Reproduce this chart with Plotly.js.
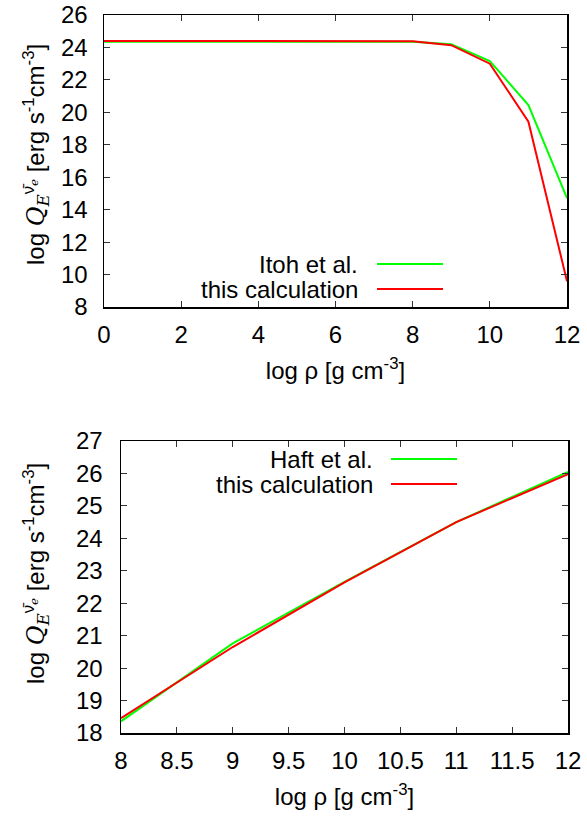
<!DOCTYPE html>
<html>
<head>
<meta charset="utf-8">
<script src="https://cdn.plot.ly/plotly-3.0.1.min.js"></script>
<style>html,body{margin:0;padding:0;background:#fff;}#chart{width:587px;height:821px;}</style>
</head>
<body>
<div id="chart"></div>
<script>
// Top panel data
const rhoTop = [0, 1, 2, 3, 4, 5, 6, 7, 8, 9, 10, 11, 12];
const itoh = [24.35, 24.35, 24.35, 24.35, 24.35, 24.35, 24.35, 24.35, 24.35, 24.2, 23.16, 20.45, 14.71];
const calcTop = [24.4, 24.4, 24.4, 24.4, 24.4, 24.4, 24.4, 24.4, 24.38, 24.14, 23.0, 19.42, 9.58];
// Bottom panel data
const rhoBot = [8, 9, 10, 11, 12];
const haft = [18.36, 20.76, 22.66, 24.5, 26.05];
const calcBot = [18.46, 20.65, 22.64, 24.5, 25.98];

const GREEN = '#00ff00', RED = '#ff0000';
const FONT = 'Liberation Sans';
const FS = 24;

const W = 587, H = 821;
const px = x => x / W;
const py = y => 1 - y / H;

const traces = [
  {x: rhoTop, y: itoh, xaxis: 'x', yaxis: 'y', mode: 'lines', line: {color: GREEN, width: 2}, showlegend: false},
  {x: rhoTop, y: calcTop, xaxis: 'x', yaxis: 'y', mode: 'lines', line: {color: RED, width: 2}, showlegend: false},
  {x: rhoBot, y: haft, xaxis: 'x2', yaxis: 'y2', mode: 'lines', line: {color: GREEN, width: 2}, showlegend: false},
  {x: rhoBot, y: calcBot, xaxis: 'x2', yaxis: 'y2', mode: 'lines', line: {color: RED, width: 2}, showlegend: false}
];

const SERIF = 'font-family:DejaVu Serif';
const yTitle = 'log <span style="' + SERIF + '"><i>Q</i></span><sub><span style="' + SERIF + '"><i>E</i></span></sub><sup>ν̄<sub><span style="' + SERIF + '"><i>e</i></span></sub></sup> [erg s<sup>-1</sup>cm<sup>-3</sup>]';
const xTitle = 'log ρ [g cm<sup>-3</sup>]';

const axBase = {
  showgrid: false, zeroline: false, showline: true, linecolor: '#000', linewidth: 1.5,
  mirror: 'ticks', ticks: 'inside', ticklen: 6, tickwidth: 1, tickcolor: '#333',
  tickfont: {family: FONT, size: FS, color: '#000'}
};

const layout = {
  width: W, height: H,
  margin: {l: 0, r: 0, t: 0, b: 0},
  paper_bgcolor: '#fff', plot_bgcolor: '#fff',
  font: {family: FONT, size: FS, color: '#000'},
  showlegend: false,
  xaxis: Object.assign({}, axBase, {domain: [px(104), px(567)], range: [0, 12], dtick: 2, tick0: 0, anchor: 'y', ticklabelstandoff: 6,
    title: {text: xTitle, font: {family: FONT, size: FS}, standoff: 15}}),
  yaxis: Object.assign({}, axBase, {domain: [py(307), py(15)], range: [8, 26], dtick: 2, tick0: 8, anchor: 'x', ticklabelstandoff: 10}),
  xaxis2: Object.assign({}, axBase, {domain: [px(121), px(568)], range: [8, 12], dtick: 0.5, tick0: 8, anchor: 'y2', ticklabelstandoff: 6,
    title: {text: xTitle, font: {family: FONT, size: FS}, standoff: 15}}),
  yaxis2: Object.assign({}, axBase, {domain: [py(733), py(441)], range: [18, 27], dtick: 1, tick0: 18, anchor: 'x2', ticklabelstandoff: 12}),
  annotations: [
    {xref: 'paper', yref: 'paper', x: px(36), y: py(155), xanchor: 'center', yanchor: 'middle', textangle: -90, text: yTitle, showarrow: false, font: {family: FONT, size: FS}},
    {xref: 'paper', yref: 'paper', x: px(36), y: py(574), xanchor: 'center', yanchor: 'middle', textangle: -90, text: yTitle, showarrow: false, font: {family: FONT, size: FS}},
    {xref: 'paper', yref: 'paper', x: px(360), y: py(264), xanchor: 'right', yanchor: 'middle', text: 'Itoh et al.', showarrow: false, font: {family: FONT, size: FS}},
    {xref: 'paper', yref: 'paper', x: px(360), y: py(289), xanchor: 'right', yanchor: 'middle', text: 'this calculation', showarrow: false, font: {family: FONT, size: FS}},
    {xref: 'paper', yref: 'paper', x: px(375), y: py(459), xanchor: 'right', yanchor: 'middle', text: 'Haft et al.', showarrow: false, font: {family: FONT, size: FS}},
    {xref: 'paper', yref: 'paper', x: px(375), y: py(484), xanchor: 'right', yanchor: 'middle', text: 'this calculation', showarrow: false, font: {family: FONT, size: FS}}
  ],
  shapes: [
    {type: 'line', xref: 'paper', yref: 'paper', x0: px(377), x1: px(443), y0: py(264), y1: py(264), line: {color: GREEN, width: 2}},
    {type: 'line', xref: 'paper', yref: 'paper', x0: px(377), x1: px(443), y0: py(289), y1: py(289), line: {color: RED, width: 2}},
    {type: 'line', xref: 'paper', yref: 'paper', x0: px(391), x1: px(457), y0: py(459), y1: py(459), line: {color: GREEN, width: 2}},
    {type: 'line', xref: 'paper', yref: 'paper', x0: px(391), x1: px(457), y0: py(484), y1: py(484), line: {color: RED, width: 2}}
  ]
};

Plotly.newPlot('chart', traces, layout, {displayModeBar: false, staticPlot: true});
</script>
</body>
</html>
